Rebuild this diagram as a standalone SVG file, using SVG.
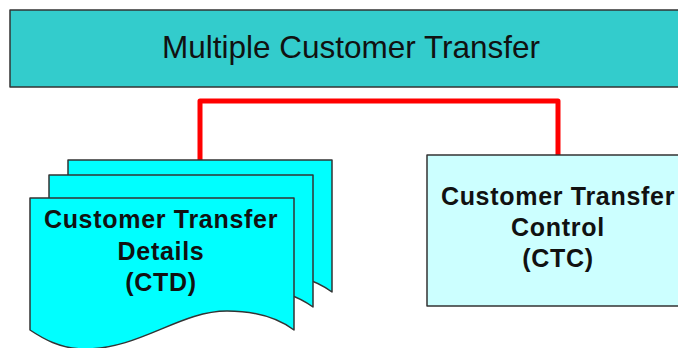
<svg xmlns="http://www.w3.org/2000/svg" xmlns:xlink="http://www.w3.org/1999/xlink" width="678" height="348" viewBox="0 0 678 348">
  <style>
    .title { font-family: "Liberation Sans", Arial, sans-serif; font-size: 31.5px; fill: #111; text-anchor: middle; }
    .label { font-family: "Liberation Sans", Arial, sans-serif; font-size: 25px; font-weight: bold; fill: #111; text-anchor: middle; letter-spacing: 0.7px; }
    .box { stroke: #333; stroke-width: 1.5; stroke-linejoin: round; }
    .page { fill: #00FFFF; stroke: #333; stroke-width: 1.5; stroke-linejoin: round; }
    .link { fill: none; stroke: #FF0000; stroke-width: 5; stroke-linejoin: round; stroke-linecap: round; }
  </style>
  <defs>
    <!-- document sheet with a wavy bottom edge, origin at top-left -->
    <path id="sheet" d="M0,0 H264 V132 C245,118 222,113 197,113 C150,113 110,151 55,151 C30,151 12,140 0,132 Z"/>
  </defs>

  <rect width="678" height="348" fill="#FFFFFF"/>

  <g id="connectors">
    <path class="link" d="M200,160 V101 H558 V157"/>
  </g>

  <g id="multiple-customer-transfer">
    <rect class="box" x="10" y="10" width="680" height="77" fill="#33CCCC"/>
    <text class="title" x="351" y="58">Multiple Customer Transfer</text>
  </g>

  <g id="ctd">
    <use xlink:href="#sheet" class="page" transform="translate(68,160)"/>
    <use xlink:href="#sheet" class="page" transform="translate(49,175)"/>
    <use xlink:href="#sheet" class="page" transform="translate(30,198)"/>
    <text class="label" x="161" y="228">Customer Transfer</text>
    <text class="label" x="161" y="260">Details</text>
    <text class="label" x="161" y="291">(CTD)</text>
  </g>

  <g id="ctc">
    <rect class="box" x="427" y="155" width="270" height="151" fill="#CCFFFF"/>
    <text class="label" x="558" y="205">Customer Transfer</text>
    <text class="label" x="558" y="236">Control</text>
    <text class="label" x="558" y="267">(CTC)</text>
  </g>
</svg>
